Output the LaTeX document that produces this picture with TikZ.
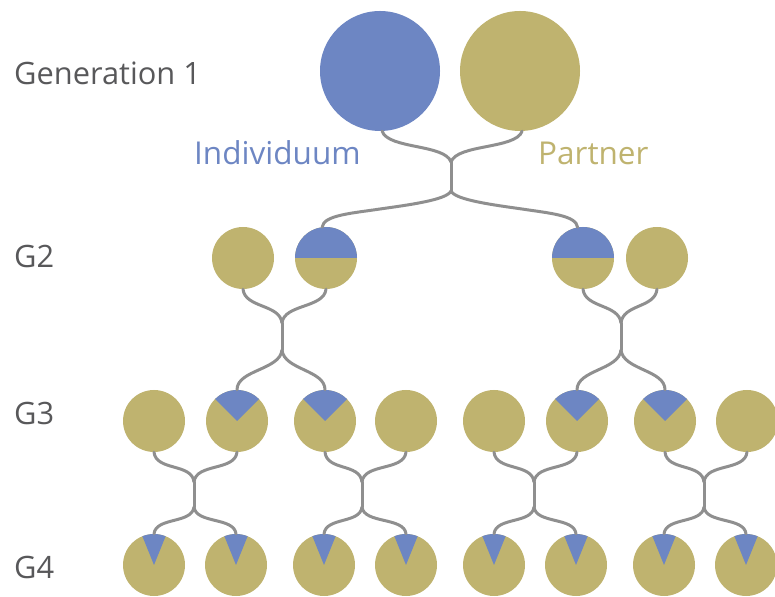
\documentclass[tikz,border=0pt]{standalone}
\usepackage{fontspec}
\setmainfont{Open Sans}
\definecolor{indblue}{HTML}{6D86C3}
\definecolor{partol}{HTML}{BFB36F}
\definecolor{linkgray}{HTML}{8F8F8F}
\definecolor{labgray}{HTML}{58585A}
\tikzset{
  big/.style={circle,fill=partol,draw=none,minimum size=120pt,inner sep=0pt},
  small/.style={circle,fill=partol,draw=none,minimum size=62pt,inner sep=0pt},
  link/.style={draw=linkgray,line width=3pt,line cap=round},
  gen/.style={text=labgray,font=\fontsize{30.8}{34}\selectfont,anchor=base west,inner sep=0pt},
  lab/.style={font=\fontsize{31.5}{36}\selectfont,anchor=base west,inner sep=0pt},
}
\newcommand{\wedgein}[2]{\fill[indblue] (#1.center) -- ++({90-#2}:31pt) arc[start angle={90-#2},end angle={90+#2},radius=31pt] -- cycle;}
\begin{document}
\begin{tikzpicture}[x=1pt,y=1pt]
\useasboundingbox (0,0) rectangle (775,596);
% junctions
\coordinate (t0) at (451,434); \coordinate (b0) at (451,405);
\coordinate (mL) at (380,387); \coordinate (mR) at (522,387);
\coordinate (t1) at (282,273); \coordinate (b1) at (282,246);
\coordinate (t2) at (621,273); \coordinate (b2) at (621,246);
\foreach \n/\x in {3/194,4/362,5/534,6/704}{
  \coordinate (t\n) at (\x,114); \coordinate (b\n) at (\x,89);
}
% connectors
\node[big,fill=indblue] (g1a) at (380,525) {};
\node[big] (g1b) at (520,525) {};
\foreach \n/\x in {a/243,b/326,c/583,d/657}{\node[small] (g2\n) at (\x,338) {};}
\foreach \n/\x in {a/154,b/237,c/325,d/406,e/494,f/577,g/665,h/747}{\node[small] (g3\n) at (\x,175) {};}
\foreach \n/\x in {a/154,b/236,c/324,d/406,e/494,f/576,g/664,h/746}{\node[small] (g4\n) at (\x,31) {};}
% blue portions
\begin{scope}
\clip (g2b.center) ++(-31,0) rectangle ++(62,31);
\fill[indblue] (g2b) circle[radius=31pt];
\end{scope}
\begin{scope}
\clip (g2c.center) ++(-31,0) rectangle ++(62,31);
\fill[indblue] (g2c) circle[radius=31pt];
\end{scope}
\foreach \n in {b,c,f,g}{\wedgein{g3\n}{45}}
\foreach \n in {a,b,c,d,e,f,g,h}{\wedgein{g4\n}{22}}
% connectors
\draw[link] (g1a.-88) .. controls +(6,-18) and +(-6,18) .. (t0);
\draw[link] (g1b.-88) .. controls +(-6,-18) and +(6,18) .. (t0);
\draw[link] (t0) -- (b0);
\draw[link] (b0) .. controls +(-4,-9) and +(28,4) .. (mL) .. controls +(-26,-4) and +(1,12) .. (g2b.97);
\draw[link] (b0) .. controls +(4,-9) and +(-28,4) .. (mR) .. controls +(26,-4) and +(-1,12) .. (g2c.100);
\foreach \j/\l/\r in {1/g2a/g2b,2/g2c/g2d}{
  \draw[link] (\l.south) .. controls +(2,-19) and +(-2,19) .. (t\j);
  \draw[link] (\r.south) .. controls +(-2,-19) and +(2,19) .. (t\j);
  \draw[link] (t\j) -- (b\j);
}
\draw[link] (b1) .. controls +(-2,-20) and +(0,20) .. (g3b.north);
\draw[link] (b1) .. controls +(2,-20) and +(0,20) .. (g3c.north);
\draw[link] (b2) .. controls +(-2,-20) and +(0,20) .. (g3f.north);
\draw[link] (b2) .. controls +(2,-20) and +(0,20) .. (g3g.north);
\foreach \j/\l/\r in {3/a/b,4/c/d,5/e/f,6/g/h}{
  \draw[link] (g3\l.south) .. controls +(2,-19) and +(-2,19) .. (t\j);
  \draw[link] (g3\r.south) .. controls +(-2,-19) and +(2,19) .. (t\j);
  \draw[link] (t\j) -- (b\j);
  \draw[link] (b\j) .. controls +(-2,-17) and +(2,17) .. (g4\l.north);
  \draw[link] (b\j) .. controls +(2,-17) and +(-2,17) .. (g4\r.north);
}
% labels
\node[gen] (l1) at (14,511) {Generation 1};
\node[gen] (l2) at (14,328) {G2};
\node[gen] (l3) at (14,171) {G3};
\node[gen] (l4) at (14,17) {G4};
\node[lab,text=indblue] (ind) at (194,431) {Individuum};
\node[lab,text=partol] (par) at (538,431) {Partner};
\end{tikzpicture}
\end{document}
